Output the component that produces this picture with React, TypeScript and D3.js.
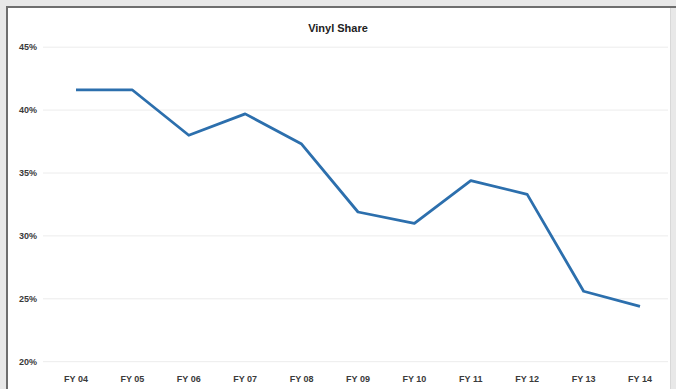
import React from "react";
import * as d3 from "d3";

const categories = ["FY 04", "FY 05", "FY 06", "FY 07", "FY 08", "FY 09", "FY 10", "FY 11", "FY 12", "FY 13", "FY 14"];
const vinylShare = [41.6, 41.6, 38.0, 39.7, 37.3, 31.9, 31.0, 34.4, 33.3, 25.6, 24.4];
const yTicks = [20, 25, 30, 35, 40, 45];

const W = 676;
const H = 389;
const FONT = "'Liberation Sans', Arial, sans-serif";

export default function App() {
  const x = d3.scalePoint<string>().domain(categories).range([76, 640]);
  const y = d3.scaleLinear().domain([20, 45]).range([361.7, 47.2]);
  const line = d3
    .line<number>()
    .x((_, i) => x(categories[i]) as number)
    .y((d) => y(d));

  return (
    <svg
      width={W}
      height={H}
      style={{ position: "absolute", left: 0, top: 0, display: "block" }}
      fontFamily={FONT}
    >
      {/* outer frame */}
      <rect x={0} y={0} width={W} height={H} fill="#e8e8e8" />
      <rect x={8} y={8} width={662} height={H - 8} fill="#ffffff" />
      <line x1={7} y1={7} x2={W} y2={7} stroke="#6e6e6e" strokeWidth={2} />
      <line x1={7} y1={6} x2={7} y2={H} stroke="#6e6e6e" strokeWidth={2} />
      <line x1={670.5} y1={8} x2={670.5} y2={H} stroke="#d8d8d8" strokeWidth={1} />

      {/* title */}
      <text x={338} y={32} textAnchor="middle" fontSize={11} fontWeight={700} fill="#222">
        Vinyl Share
      </text>

      {/* gridlines and y labels */}
      {yTicks.map((t) => (
        <g key={t}>
          <line x1={43} x2={668} y1={y(t)} y2={y(t)} stroke="#ececec" strokeWidth={1} />
          <text x={37} y={y(t) + 3} textAnchor="end" fontSize={9} fontWeight={700} fill="#3a3a3a">
            {t}%
          </text>
        </g>
      ))}

      {/* x labels */}
      {categories.map((c) => (
        <text key={c} x={x(c)} y={381.5} textAnchor="middle" fontSize={9} fontWeight={700} fill="#3a3a3a">
          {c}
        </text>
      ))}

      {/* series */}
      <path
        d={line(vinylShare) || ""}
        fill="none"
        stroke="#2c6fad"
        strokeWidth={2.8}
        strokeLinejoin="round"
        strokeLinecap="butt"
      />
    </svg>
  );
}
